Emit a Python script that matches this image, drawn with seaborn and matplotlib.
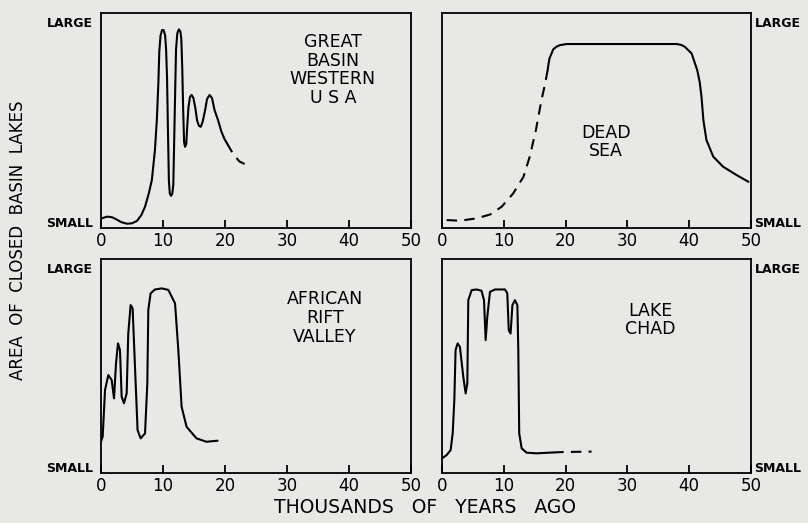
import numpy as np
import pandas as pd
import seaborn as sns
import matplotlib.pyplot as plt

sns.set_style("ticks")
plt.rcParams['font.family'] = ['DejaVu Sans']
plt.rcParams['text.color'] = 'black'
plt.rcParams['xtick.color'] = 'black'
plt.rcParams['ytick.color'] = 'black'

# Great Basin, western USA (thousands of years ago, relative lake area 0..1)
gb_x = [0.1, 1.0, 1.8, 2.5, 3.3, 4.2, 5.0, 5.8, 6.5, 7.1, 7.7, 8.2, 8.7, 9.0, 9.25, 9.4,
        9.6, 9.85, 10.1, 10.35, 10.5, 10.65, 10.8, 10.95, 11.1, 11.3, 11.5, 11.66, 11.8,
        11.95, 12.1, 12.3, 12.55, 12.8, 12.95, 13.1, 13.25, 13.4, 13.55, 13.75, 13.9, 14.1,
        14.35, 14.6, 14.9, 15.2, 15.5, 15.8, 16.1, 16.4, 16.8, 17.1, 17.5, 17.9, 18.3, 18.9,
        19.4, 19.9, 20.3]
gb_y = [0.045, 0.053, 0.05, 0.04, 0.027, 0.02, 0.022, 0.033, 0.06, 0.099, 0.16, 0.223, 0.363,
        0.5, 0.673, 0.82, 0.895, 0.921, 0.921, 0.895, 0.83, 0.7, 0.45, 0.22, 0.16, 0.15, 0.16,
        0.2, 0.4, 0.62, 0.83, 0.905, 0.924, 0.915, 0.88, 0.75, 0.55, 0.4, 0.378, 0.39, 0.47,
        0.56, 0.61, 0.619, 0.605, 0.56, 0.5, 0.475, 0.471, 0.495, 0.55, 0.6, 0.619, 0.605,
        0.55, 0.5, 0.45, 0.415, 0.395]
gb_dash_x = [20.3, 21.2, 22.3, 23.5]
gb_dash_y = [0.395, 0.35, 0.31, 0.293]

# Dead Sea
ds_dash_x = [0.76, 2.9, 5.6, 7.8, 9.66, 11.5, 13.2, 14.2, 15.2, 16.1, 16.7, 17.1]
ds_dash_y = [0.037, 0.034, 0.045, 0.063, 0.099, 0.16, 0.239, 0.332, 0.456, 0.595, 0.673, 0.735]
ds_x = [17.1, 17.25, 17.4, 18.0, 18.5, 19.1, 20.2, 38.0, 38.7, 39.3, 40.4, 41.3, 41.7, 42.0,
        42.3, 42.8, 43.9, 45.5, 47.7, 49.6]
ds_y = [0.735, 0.765, 0.789, 0.831, 0.843, 0.851, 0.856, 0.856, 0.852, 0.843, 0.812, 0.735,
        0.68, 0.61, 0.502, 0.409, 0.332, 0.285, 0.246, 0.215]

# African Rift Valley
ar_x = [0.0, 0.27, 0.65, 1.18, 1.72, 2.1, 2.42, 2.74, 3.06, 3.33, 3.7, 4.14, 4.4, 4.78, 5.1,
        5.48, 5.9, 6.4, 7.1, 7.47, 7.63, 8.0, 8.7, 9.8, 10.86, 11.94, 12.47, 13.0, 13.8,
        15.4, 17.0, 18.8]
ar_y = [0.146, 0.17, 0.388, 0.458, 0.435, 0.349, 0.512, 0.606, 0.575, 0.357, 0.326, 0.372,
        0.653, 0.785, 0.77, 0.497, 0.2, 0.162, 0.185, 0.419, 0.762, 0.84, 0.858, 0.863,
        0.856, 0.793, 0.575, 0.31, 0.216, 0.162, 0.146, 0.151]

# Lake Chad
lc_x = [0.05, 0.76, 1.4, 1.73, 2.0, 2.2, 2.54, 2.9, 3.45, 3.83, 4.1, 4.26, 4.8, 5.6, 6.4, 6.8,
        7.07, 7.33, 7.77, 8.58, 10.2, 10.57, 10.8, 11.1, 11.4, 11.8, 12.2, 12.35, 12.5, 12.9,
        13.7, 15.3, 18.0]
lc_y = [0.069, 0.084, 0.107, 0.185, 0.341, 0.575, 0.606, 0.59, 0.45, 0.372, 0.419, 0.808,
        0.855, 0.858, 0.852, 0.808, 0.621, 0.73, 0.847, 0.858, 0.858, 0.84, 0.668, 0.652,
        0.785, 0.808, 0.785, 0.575, 0.185, 0.115, 0.095, 0.092, 0.096]
lc_dash_x = [18.0, 19.6, 24.2]
lc_dash_y = [0.096, 0.098, 0.1]

x_ticks = [0, 10, 20, 30, 40, 50]
y_ticks = [0.03, 0.96]
y_labels = ["SMALL", "LARGE"]

bg = "#e8e8e6"
fig = plt.figure(figsize=(8.08, 5.23), dpi=100, facecolor=bg)

panels = [
    # rect, solid, dashed, label, label pos, y side
    ([0.125, 0.564, 0.3837, 0.411], (gb_x, gb_y), (gb_dash_x, gb_dash_y),
     "GREAT\nBASIN\nWESTERN\nU S A", (37.4, 0.735), "left"),
    ([0.547, 0.564, 0.3824, 0.411], (ds_x, ds_y), (ds_dash_x, ds_dash_y),
     "DEAD\nSEA", (26.5, 0.40), "right"),
    ([0.125, 0.0956, 0.3837, 0.409], (ar_x, ar_y), None,
     "AFRICAN\nRIFT\nVALLEY", (36.1, 0.724), "left"),
    ([0.547, 0.0956, 0.3824, 0.409], (lc_x, lc_y), (lc_dash_x, lc_dash_y),
     "LAKE\nCHAD", (33.7, 0.715), "right"),
]

for rect, solid, dashed, label, lpos, side in panels:
    ax = fig.add_axes(rect)
    ax.set_facecolor(bg)
    sns.lineplot(x=solid[0], y=solid[1], ax=ax, color="black", lw=1.5,
                 sort=False, estimator=None)
    if dashed is not None:
        sns.lineplot(x=dashed[0], y=dashed[1], ax=ax, color="black", lw=1.5,
                     linestyle=(0, (5, 3.5)), sort=False, estimator=None)
    ax.set_xlim(0, 50)
    ax.set_ylim(0, 1)
    ax.set_xticks(x_ticks)
    ax.set_xticklabels([str(t) for t in x_ticks])
    ax.tick_params(axis="x", direction="in", length=6, width=1.3, pad=3,
                   labelsize=12)
    ax.set_yticks(y_ticks)
    ax.set_yticklabels(y_labels, fontsize=9, fontweight="bold")
    if side == "right":
        ax.yaxis.tick_right()
        ax.tick_params(axis="y", length=0, pad=2.5)
    else:
        ax.tick_params(axis="y", length=0, pad=6)
    for sp in ax.spines.values():
        sp.set_visible(True)
        sp.set_linewidth(1.3)
        sp.set_color("black")
    ax.set_xlabel("")
    ax.set_ylabel("")
    ax.text(lpos[0], lpos[1], label, ha="center", va="center", fontsize=12.5,
            linespacing=1.05)

fig.text(0.022, 0.541, "AREA  OF  CLOSED  BASIN  LAKES", rotation=90,
         ha="center", va="center", fontsize=12)
fig.text(0.526, 0.029, "THOUSANDS   OF   YEARS   AGO", ha="center", va="center",
         fontsize=13.5)

fig.savefig("out.png", dpi=100, facecolor=bg)
